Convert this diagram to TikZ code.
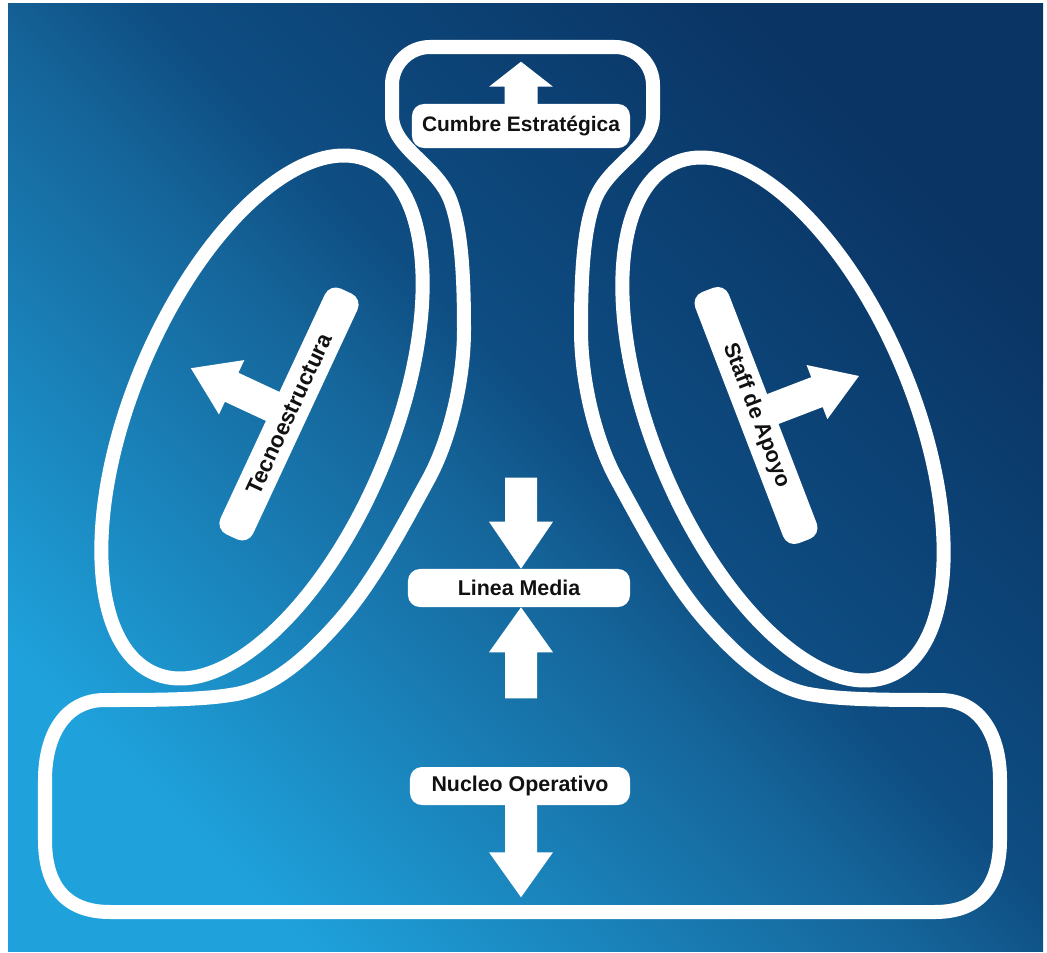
\documentclass[tikz,border=0pt]{standalone}
\usepackage{fontspec}
\setmainfont{Liberation Sans}
\definecolor{bglight}{RGB}{31,162,220}
\definecolor{bgmidA}{RGB}{21,101,154}
\definecolor{bgmidB}{RGB}{14,77,130}
\definecolor{bgdark}{RGB}{10,52,100}
\definecolor{inkcol}{RGB}{17,17,17}
\pgfdeclareverticalshading{bgshade}{100bp}{color(0bp)=(bglight); color(25bp)=(bglight); color(47bp)=(bgmidA); color(53.5bp)=(bgmidB); color(75bp)=(bgdark); color(100bp)=(bgdark)}
\tikzset{
  outline/.style={draw=white, line width=0.35cm, line join=round},
  labelbox/.style={fill=white, rounded corners=0.3cm, inner sep=0pt,
    font=\fontsize{15.2}{17}\selectfont\bfseries, text=inkcol},
  blockarrow/.style={fill=white},
}
\begin{document}
\begin{tikzpicture}[x=0.025cm,y=-0.025cm]
\useasboundingbox (0,0) rectangle (1047,953);
\fill[white] (0,0) rectangle (1047,953);
\shade[shading=bgshade, shading angle=-45] (8,4) rectangle (1043,951);
% outer contour
\draw[outline] (522,47) -- (615,47)
 .. controls (636,47) and (653,64) .. (653,85)
 -- (653,115)
 .. controls (653,150) and (605,165) .. (593,205)
 .. controls (583,235) and (581,280) .. (581,330)
 .. controls (581,380) and (595,440) .. (617,480)
 .. controls (639,520) and (670,580) .. (705,620)
 .. controls (740,660) and (775,690) .. (815,695)
 .. controls (845,700) and (895,700) .. (940,700)
 .. controls (980,700) and (1000,735) .. (1000,780)
 -- (1000,840)
 .. controls (1000,885) and (980,912) .. (935,912)
 -- (110,912)
 .. controls (65,912) and (45,885) .. (45,840)
 -- (45,780)
 .. controls (45,735) and (65,700) .. (105,700)
 .. controls (150,700) and (200,700) .. (230,695)
 .. controls (270,690) and (305,660) .. (340,620)
 .. controls (375,580) and (406,520) .. (428,480)
 .. controls (450,440) and (464,380) .. (464,330)
 .. controls (464,280) and (462,235) .. (452,205)
 .. controls (440,165) and (392,150) .. (392,115)
 -- (392,85)
 .. controls (392,64) and (409,47) .. (430,47)
 -- cycle;
% side ellipses
\draw[outline, rotate around={67.4:(262,417)}] (262,417) ellipse [x radius=278, y radius=130];
\draw[outline, rotate around={-67.4:(783,419)}] (783,419) ellipse [x radius=278, y radius=130];
% label boxes
\node[labelbox, minimum width=5.45cm, minimum height=1.1cm, font=\fontsize{14.9}{17}\selectfont\bfseries] (apexbox) at (521,126) {Cumbre Estratégica};
\node[labelbox, minimum width=5.55cm, minimum height=0.95cm] (mediabox) at (519,588) {Linea Media};
\node[labelbox, minimum width=5.5cm, minimum height=0.95cm] (corebox) at (520,786) {Nucleo Operativo};
\node[labelbox, minimum width=6.775cm, minimum height=0.9cm, rotate=65, font=\fontsize{16}{18}\selectfont\bfseries] (technobar) at (289,414) {Tecnoestructura};
\node[labelbox, minimum width=6.725cm, minimum height=0.9cm, rotate=-69, font=\fontsize{15.4}{17}\selectfont\bfseries] (staffbar) at (756,415.5) {Staff de Apoyo};
% block arrows
\begin{scope}[shift={(apexbox.north)}]
\fill[blockarrow] (-16.5,1) -- (-16.5,-17) -- (-32,-17) -- (0,-42) -- (32,-17) -- (16.5,-17) -- (16.5,1) -- cycle;
\end{scope}
\begin{scope}[shift={(mediabox.north)}]
\fill[blockarrow] (-14,-91) -- (18,-91) -- (18,-47) -- (34,-47) -- (2,0) -- (-30,-47) -- (-14,-47) -- cycle;
\end{scope}
\begin{scope}[shift={(mediabox.south)}]
\fill[blockarrow] (-14,91) -- (18,91) -- (18,45) -- (34,45) -- (2,0) -- (-30,45) -- (-14,45) -- cycle;
\end{scope}
\begin{scope}[shift={(corebox.south)}]
\fill[blockarrow] (-15,-1) -- (17,-1) -- (17,47) -- (33,47) -- (1,92) -- (-31,47) -- (-15,47) -- cycle;
\end{scope}
\begin{scope}[shift={(technobar.north)}, rotate=155]
\fill[blockarrow] (-1,-16) -- (45,-16) -- (45,-30) -- (90,0) -- (45,30) -- (45,16) -- (-1,16) -- cycle;
\end{scope}
\begin{scope}[shift={(staffbar.north)}, rotate=21]
\fill[blockarrow] (-1,-16) -- (47,-16) -- (47,-29) -- (92,0) -- (47,29) -- (47,16) -- (-1,16) -- cycle;
\end{scope}
\end{tikzpicture}
\end{document}
